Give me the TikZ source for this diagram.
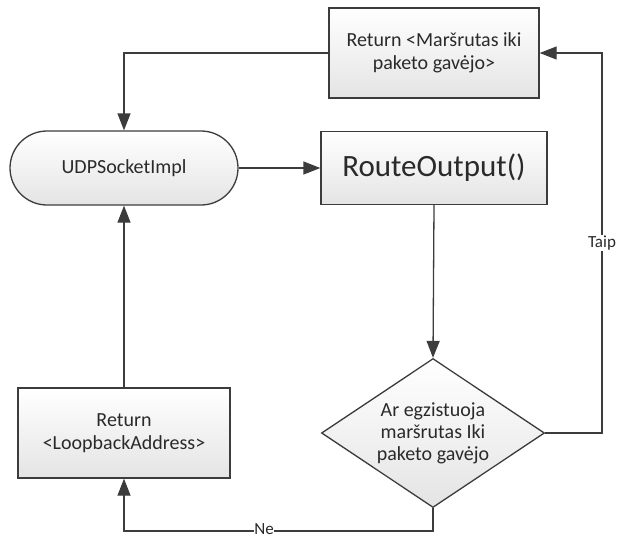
\documentclass[tikz,border=0pt]{standalone}
\usepackage{fontspec}
\setmainfont{Carlito}
\usetikzlibrary{arrows.meta,shapes.geometric,shapes.misc}
\definecolor{ink}{HTML}{3C3C3C}
\definecolor{txt}{HTML}{2A2A2A}
\definecolor{fillbot}{HTML}{E4E4E4}
\tikzset{
  every node/.style={text=txt, font=\fontsize{20}{23}\selectfont},
  blockbox/.style={draw=ink, line width=1.3pt, top color=white, bottom color=fillbot, align=center, inner sep=0pt},
  termbox/.style={blockbox, rounded rectangle},
  decbox/.style={draw=ink, line width=1.3pt, top color=white, bottom color=fillbot, diamond, inner sep=0pt},
  flow/.style={draw=ink, line width=1.3pt, -{Triangle[length=17pt,width=13pt]}},
  tag/.style={fill=white, inner sep=1pt, font=\fontsize{17}{19}\selectfont}
}
\begin{document}
\begin{tikzpicture}[x=1pt,y=-1pt]
\useasboundingbox (0,0) rectangle (617,539);

\node[blockbox, minimum width=210pt, minimum height=90pt] (ret) at (434,53)
  {Return <Maršrutas iki\\paketo gavėjo>};
\node[termbox, minimum width=228pt, minimum height=74pt] (udp) at (124,168)
  {UDPSocketImpl};
\node[blockbox, minimum width=226pt, minimum height=73pt, font=\fontsize{31}{35}\selectfont] (route) at (434,168)
  {RouteOutput()};
\node[decbox, minimum width=223pt, minimum height=149pt] (dia) at (433,433) {};
\node[align=center, font=\fontsize{20}{22}\selectfont] (diatext) at (433,433)
  {Ar egzistuoja\\maršrutas Iki\\paketo gavėjo};
\node[blockbox, minimum width=212pt, minimum height=90pt] (loop) at (124,433)
  {Return\\<LoopbackAddress>};

\coordinate (yesturn) at (602,433);
\coordinate (noturn) at (433,531);

\draw[flow] (ret.west) -| (udp.north);
\draw[flow] (udp.east) -- (route.west);
\draw[flow] (route.south) -- (dia.north);
\draw[flow] (dia.east) -- (yesturn) |- (ret.east);
\draw[flow] (dia.south) -- (noturn) -| (loop.south);
\draw[flow] (loop.north) -- (udp.south);

\node[tag] (taip) at (602,243) {Taip};
\node[tag, inner sep=0.5pt] (ne) at (264,529) {Ne};
\end{tikzpicture}
\end{document}
